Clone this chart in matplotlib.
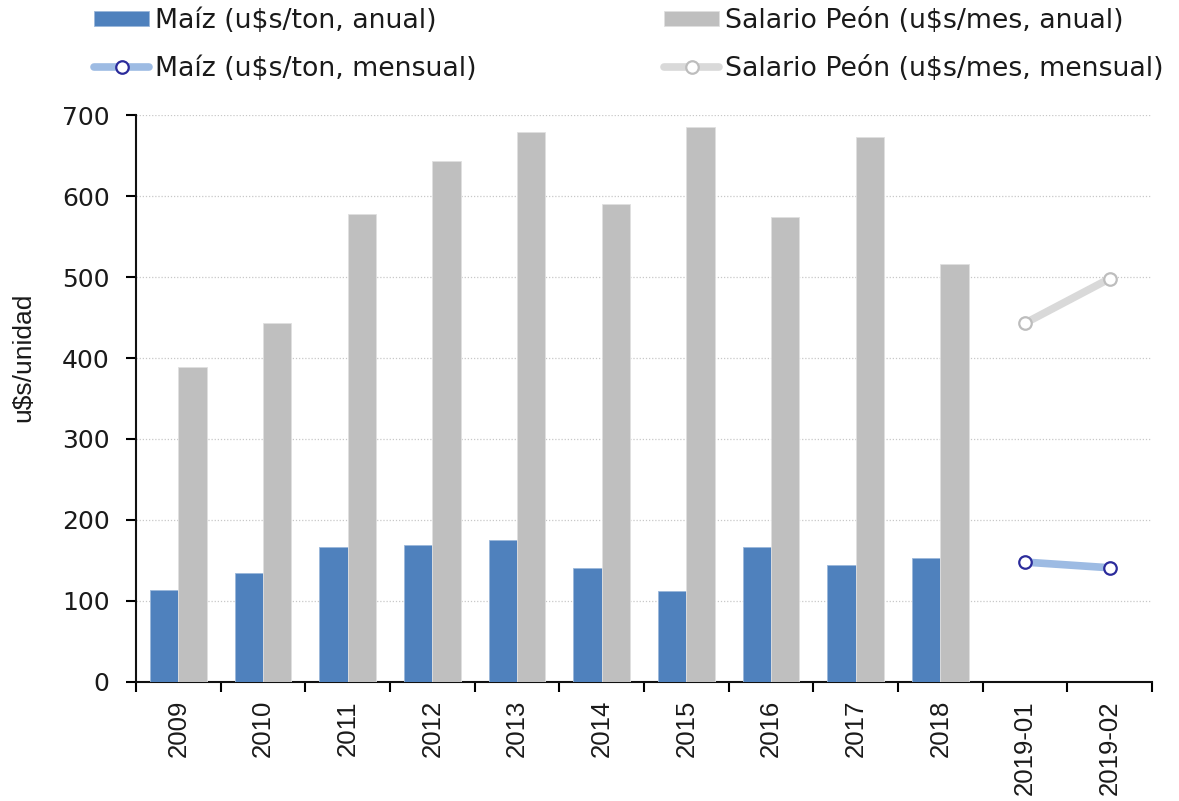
import numpy as np
import matplotlib
matplotlib.use("Agg")
import matplotlib.pyplot as plt
from matplotlib.ticker import FixedLocator

# Precios anuales (barras) y mensuales (líneas), u$s
periodos = ["2009", "2010", "2011", "2012", "2013", "2014", "2015",
            "2016", "2017", "2018", "2019-01", "2019-02"]
maiz_anual = [113, 135, 167, 169, 175, 141, 112, 167, 145, 153]
salario_anual = [389, 443, 578, 643, 679, 590, 685, 574, 673, 516]
maiz_mensual = [148, 141]
salario_mensual = [443, 498]

AZUL = "#4F81BD"
GRIS = "#BFBFBF"
TXT = "#1a1a1a"

fig = plt.figure(figsize=(11.79, 8.01), dpi=100)
ax = fig.add_axes([0.1154, 0.1486, 0.8617, 0.7078])

x = np.arange(len(periodos))
n_anual = len(maiz_anual)
w = 0.336

b1 = ax.bar(x[:n_anual] - w / 2, maiz_anual, w, color=AZUL, edgecolor="#9bb7da",
            linewidth=0.6, zorder=3)
b2 = ax.bar(x[:n_anual] + w / 2, salario_anual, w, color=GRIS, edgecolor="#e0e0e0",
            linewidth=0.6, zorder=3)

xm = x[n_anual:]
l1, = ax.plot(xm, maiz_mensual, color="#9DBBE3", lw=5.5, marker="o", ms=9,
              mfc="white", mec="#2B2B9B", mew=1.6, solid_capstyle="round", zorder=4)
l2, = ax.plot(xm, salario_mensual, color="#D9D9D9", lw=5.5, marker="o", ms=9,
              mfc="white", mec="#BDBDBD", mew=1.6, solid_capstyle="round", zorder=4)

ax.set_xlim(-0.5, len(periodos) - 0.5)
ax.set_ylim(0, 700)
ax.set_yticks(range(0, 701, 100))
ax.grid(axis="y", linestyle=(0, (1, 1.5)), color="#c8c8c8", lw=0.9, zorder=0)

# ticks en los bordes de cada categoría, etiquetas al centro
ax.xaxis.set_major_locator(FixedLocator(np.arange(-0.5, len(periodos), 1.0)))
ax.xaxis.set_minor_locator(FixedLocator(x))
ax.set_xticklabels([], minor=False)
ax.set_xticklabels(periodos, minor=True, rotation=90, va="top", ha="center",
                   fontfamily="Liberation Sans", fontsize=18.5, color=TXT)
ax.tick_params(axis="x", which="major", length=7, width=1.5, direction="out")
ax.tick_params(axis="x", which="minor", length=0, pad=13)
ax.tick_params(axis="y", length=7, width=1.5, direction="out", pad=12,
               labelsize=18, labelcolor=TXT)

for s in ["top", "right"]:
    ax.spines[s].set_visible(False)
for s in ["left", "bottom"]:
    ax.spines[s].set_linewidth(1.5)
    ax.spines[s].set_color("#111111")

ax.set_ylabel("u$s/unidad", fontfamily="Liberation Sans", fontsize=19, color=TXT)
ax.yaxis.set_label_coords(-0.0994, 0.573)

fig.legend([b1, l1, b2, l2],
           ["Maíz (u$s/ton, anual)", "Maíz (u$s/ton, mensual)",
            "Salario Peón (u$s/mes, anual)", "Salario Peón (u$s/mes, mensual)"],
           ncol=2, loc="upper left", bbox_to_anchor=(0.0594, 1.02), frameon=False,
           fontsize=19.3, handlelength=2.05, handleheight=0.45, handletextpad=0.22,
           columnspacing=7.0, labelspacing=0.8, labelcolor=TXT)

fig.savefig("out.png", dpi=100)
